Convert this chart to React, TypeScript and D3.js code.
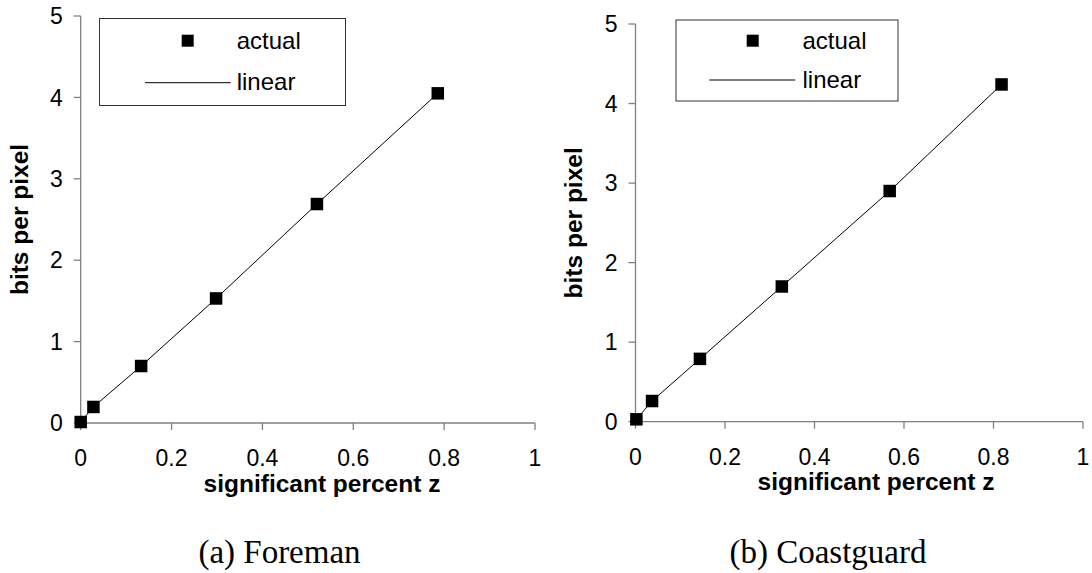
import React from "react";
import * as d3 from "d3";

// Foreman sequence: significant percent z vs. bits per pixel
const foremanZ = [0, 0.028, 0.133, 0.298, 0.52, 0.786];
const foremanBpp = [0.012, 0.197, 0.7, 1.53, 2.69, 4.05];

// Coastguard sequence
const coastguardZ = [0.002, 0.037, 0.144, 0.327, 0.568, 0.818];
const coastguardBpp = [0.03, 0.26, 0.79, 1.7, 2.9, 4.24];

const xTicks = [0, 0.2, 0.4, 0.6, 0.8, 1];
const yTicks = [0, 1, 2, 3, 4, 5];
const legendLabels = ["actual", "linear"];
const xTitle = "significant percent z";
const yTitle = "bits per pixel";
const captions = ["(a) Foreman", "(b) Coastguard"];

const SANS = "'Liberation Sans', Arial, Helvetica, sans-serif";
const SERIF = "'Liberation Serif', 'Times New Roman', serif";
const AXIS = "#808080";
const TICK_FONT = 23;
const LEGEND_FONT = 24;

type Layout = {
  x0: number;
  x1: number;
  yTop: number;
  yBottom: number;
  legend: { x: number; y: number; w: number; h: number; mx: number; my: number; tx: number; l0: number; l1: number; ly: number; t1: number; t2: number };
  xTitleX: number;
  yTitleX: number;
  captionX: number;
};

function Panel({ xs, ys, layout, caption }: { xs: number[]; ys: number[]; layout: Layout; caption: string }) {
  const x = d3.scaleLinear().domain([0, 1]).range([layout.x0, layout.x1]);
  const y = d3.scaleLinear().domain([0, 5]).range([layout.yBottom, layout.yTop]);
  const pts = xs.map((v, i) => [v, ys[i]] as [number, number]);
  const line = d3
    .line<[number, number]>()
    .x((d) => x(d[0]))
    .y((d) => y(d[1]))(pts);
  const ms = 12.5;
  const L = layout.legend;
  const yMid = (layout.yTop + layout.yBottom) / 2;
  return (
    <g>
      {/* axes */}
      <line x1={x(0)} x2={x(0)} y1={y(5)} y2={y(0)} stroke={AXIS} strokeWidth={1.3} />
      <line x1={x(0)} x2={x(1)} y1={y(0)} y2={y(0)} stroke={AXIS} strokeWidth={1.3} />
      {yTicks.map((t) => (
        <g key={"y" + t}>
          <line x1={x(0) - 7} x2={x(0)} y1={y(t)} y2={y(t)} stroke={AXIS} strokeWidth={1.3} />
          <text x={x(0) - 18} y={y(t)} dy="0.36em" textAnchor="end" fontFamily={SANS} fontSize={TICK_FONT} fill="#000">
            {t}
          </text>
        </g>
      ))}
      {xTicks.map((t) => (
        <g key={"x" + t}>
          <line x1={x(t)} x2={x(t)} y1={y(0)} y2={y(0) + 7} stroke={AXIS} strokeWidth={1.3} />
          <text x={x(t)} y={y(0) + 43} textAnchor="middle" fontFamily={SANS} fontSize={TICK_FONT} fill="#000">
            {t}
          </text>
        </g>
      ))}
      {/* axis titles */}
      <text x={layout.xTitleX} y={y(0) + 68.5} textAnchor="middle" fontFamily={SANS} fontWeight="bold" fontSize={24.5} fill="#000">
        {xTitle}
      </text>
      <text
        transform={`translate(${layout.yTitleX},${yMid}) rotate(-90)`}
        textAnchor="middle"
        fontFamily={SANS}
        fontWeight="bold"
        fontSize={24.5}
        fill="#000"
      >
        {yTitle}
      </text>
      {/* linear fit line and measured points */}
      <path d={line ?? ""} fill="none" stroke="#000" strokeWidth={1} />
      {pts.map((d, i) => (
        <rect key={i} x={x(d[0]) - ms / 2} y={y(d[1]) - ms / 2} width={ms} height={ms} fill="#000" />
      ))}
      {/* legend */}
      <rect x={L.x} y={L.y} width={L.w} height={L.h} fill="#fff" stroke="#333" strokeWidth={1} />
      <rect x={L.mx - 6} y={L.my - 6} width={12} height={12} fill="#000" />
      <text x={L.tx} y={L.t1} fontFamily={SANS} fontSize={LEGEND_FONT} fill="#000">
        {legendLabels[0]}
      </text>
      <line x1={L.l0} x2={L.l1} y1={L.ly} y2={L.ly} stroke="#000" strokeWidth={1} />
      <text x={L.tx} y={L.t2} fontFamily={SANS} fontSize={LEGEND_FONT} fill="#000">
        {legendLabels[1]}
      </text>
      {/* caption */}
      <text x={layout.captionX} y={563} textAnchor="middle" fontFamily={SERIF} fontSize={33} fill="#000">
        {caption}
      </text>
    </g>
  );
}

const leftLayout: Layout = {
  x0: 80.7,
  x1: 535,
  yTop: 16,
  yBottom: 423,
  legend: { x: 99.5, y: 18.5, w: 246, h: 87, mx: 187.7, my: 40.7, tx: 236.7, l0: 145, l1: 230.7, ly: 82.7, t1: 49, t2: 90 },
  xTitleX: 322,
  yTitleX: 27.5,
  captionX: 279.5,
};

const rightLayout: Layout = {
  x0: 635.5,
  x1: 1083,
  yTop: 24,
  yBottom: 421.7,
  legend: { x: 676, y: 20, w: 222, h: 81, mx: 752.7, my: 40.7, tx: 802.5, l0: 709.3, l1: 795.3, ly: 80, t1: 49, t2: 88 },
  xTitleX: 876,
  yTitleX: 581.5,
  captionX: 828,
};

export default function App() {
  return (
    <svg
      width={1092}
      height={573}
      viewBox="0 0 1092 573"
      style={{ position: "absolute", left: 0, top: 0, background: "#fff" }}
    >
      <rect width={1092} height={573} fill="#fff" />
      <Panel xs={foremanZ} ys={foremanBpp} layout={leftLayout} caption={captions[0]} />
      <Panel xs={coastguardZ} ys={coastguardBpp} layout={rightLayout} caption={captions[1]} />
    </svg>
  );
}
